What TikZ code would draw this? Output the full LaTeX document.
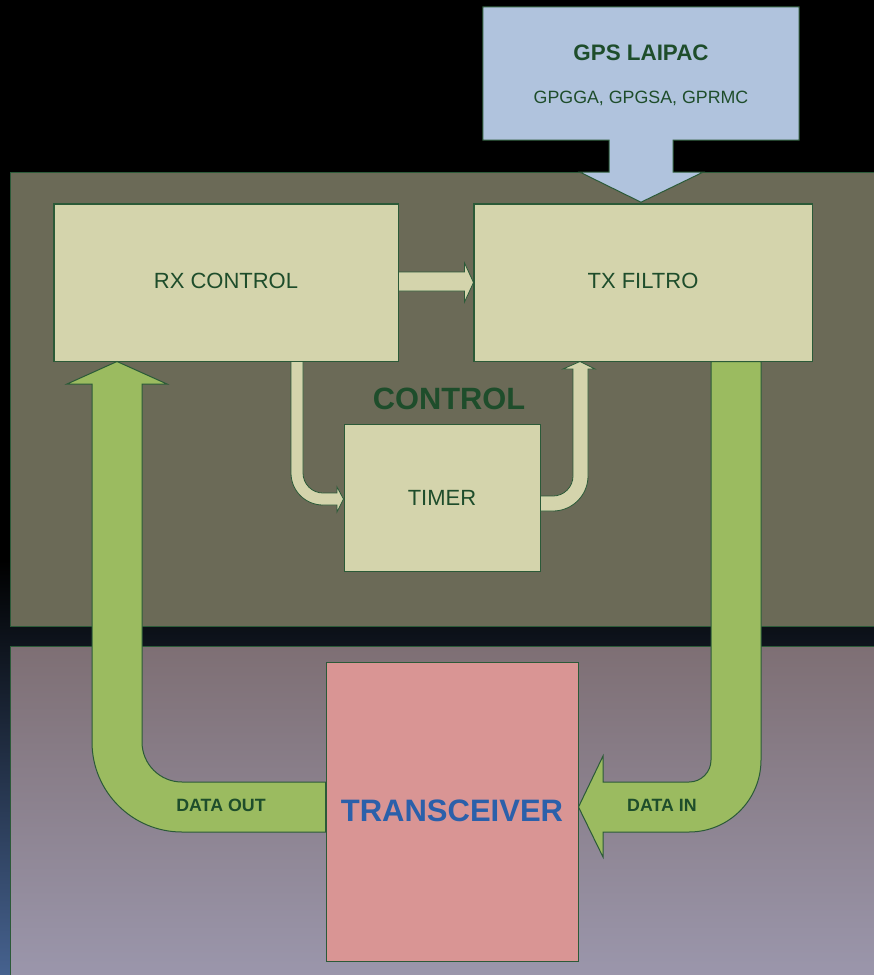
\documentclass[tikz,border=0pt]{standalone}
\usepackage{fontspec}
\setmainfont{Liberation Sans}
\usetikzlibrary{calc}

\definecolor{bgblue}{HTML}{46628F}
\definecolor{panelolive}{HTML}{6B6A57}
\definecolor{lowtop}{HTML}{7E6F74}
\definecolor{lowbot}{HTML}{9C98AE}
\definecolor{khaki}{HTML}{D4D4AC}
\definecolor{gpsblue}{HTML}{B0C3DD}
\definecolor{agreen}{HTML}{9BBB60}
\definecolor{xcvr}{HTML}{D99594}
\definecolor{xcvrtext}{HTML}{2B60AA}
\definecolor{edge}{HTML}{2B5A38}
\definecolor{dgreen}{HTML}{1E4D2B}

\begin{document}
\begin{tikzpicture}[x=1pt,y=-1pt,
  kbox/.style={draw=edge,fill=khaki,line width=1pt,inner sep=0pt,text=dgreen,
    font=\fontsize{22}{26}\selectfont},
  kharrow/.style={draw=edge,fill=khaki,line width=0.8pt,line join=miter},
  garrow/.style={draw=edge,fill=agreen,line width=1pt,line join=miter},
  panel/.style={draw=edge,line width=1pt},
  flowlbl/.style={text=dgreen,font=\fontsize{17.8}{20}\selectfont\bfseries,inner sep=0pt,anchor=base}]

\useasboundingbox (0,0) rectangle (874,975);
\clip (0,0) rectangle (874,975);

% backdrop: black fading into dark blue towards the bottom
\fill[black] (0,0) rectangle (874,975);
\shade[top color=black,bottom color=bgblue] (0,560) rectangle (874,975);

% control panel and radio panel
\fill[panelolive,panel] (10,172) rectangle (884,626);
\shade[top color=lowtop,bottom color=lowbot,panel] (10,646) rectangle (884,990);

% GPS receiver (callout with arrow into TX FILTRO)
\node[minimum width=316pt,minimum height=133pt,inner sep=0pt] (gps) at (641,73.5) {};
\path[draw=edge,fill=gpsblue,line width=1pt,line join=miter]
  (gps.north west) -- (gps.north east) -- (gps.south east)
  -- ($(gps.south)+(32,0)$) -- ($(gps.south)+(32,32)$) -- ($(gps.south)+(62,32)$)
  -- ($(gps.south)+(0,62)$)
  -- ($(gps.south)+(-61,32)$) -- ($(gps.south)+(-32,32)$) -- ($(gps.south)+(-32,0)$)
  -- (gps.south west) -- cycle;
\node[text=dgreen,font=\fontsize{22.4}{26}\selectfont\bfseries,inner sep=0pt,anchor=base] (gpsname) at (641,60) {GPS LAIPAC};
\node[text=dgreen,font=\fontsize{17.8}{20}\selectfont,inner sep=0pt,anchor=base] (gpsmsg) at (641,103) {GPGGA, GPGSA, GPRMC};

% blocks
\node[kbox,minimum width=344pt,minimum height=157pt] (rx) at (226,282.5) {};
\node[kbox,minimum width=338pt,minimum height=157pt] (tx) at (643,282.5) {};
\node[kbox,minimum width=196pt,minimum height=147pt] (timer) at (442,497.5) {};
\node[text=dgreen,font=\fontsize{22}{26}\selectfont,inner sep=0pt,anchor=base] (rxlbl) at (226,288.3) {RX CONTROL};
\node[text=dgreen,font=\fontsize{22}{26}\selectfont,inner sep=0pt,anchor=base] (txlbl) at (643,288.3) {TX FILTRO};
\node[text=dgreen,font=\fontsize{22}{26}\selectfont,inner sep=0pt,anchor=base] (timerlbl) at (442,505) {TIMER};
\node[text=dgreen,font=\fontsize{30.8}{34}\selectfont\bfseries,inner sep=0pt,anchor=base] (ctrl) at (449,409.3) {CONTROL};
\node[draw=edge,fill=xcvr,line width=1pt,minimum width=252pt,minimum height=299pt,inner sep=0pt] (xcvr) at (452,811.5) {};
\node[text=xcvrtext,font=\fontsize{31}{36}\selectfont\bfseries,inner sep=0pt,anchor=base] (xcvrlbl) at (452,821.7) {TRANSCEIVER};

% RX CONTROL -> TX FILTRO
\path[kharrow] ($(rx.east)+(0,-10.5)$) -- ($(tx.west)+(-9,-10.5)$) -- ($(tx.west)+(-9,-19.5)$)
  -- (tx.west) -- ($(tx.west)+(-9,19.5)$) -- ($(tx.west)+(-9,8.5)$) -- ($(rx.east)+(0,8.5)$) -- cycle;

% RX CONTROL -> TIMER
\path[kharrow] ($(rx.south)+(65,0)$) -- (291,473)
  .. controls (291,490.7) and (305.3,505) .. (323,505)
  -- (337,505) -- (337,512) -- ($(timer.west)+(0,1.5)$) -- (337,487) -- (337,493) -- (323,493)
  .. controls (312,493) and (303,484) .. (303,473)
  -- ($(rx.south)+(77,0)$) -- cycle;

% TIMER -> TX FILTRO
\path[kharrow] ($(timer.east)+(0,-1.5)$) -- (553,496)
  .. controls (564,496) and (573,487) .. (573,476)
  -- (573,369) -- (563,369) -- ($(tx.south)+(-63,0)$) -- (595,369) -- (588,369) -- (588,476)
  .. controls (588,495.3) and (572.3,511) .. (553,511)
  -- ($(timer.east)+(0,13.5)$) -- cycle;

% TRANSCEIVER -> RX CONTROL (data out)
\path[garrow] ($(rx.south)+(-109,0)$) -- (167,384) -- (142,384) -- (142,742)
  .. controls (142,764.1) and (159.9,782) .. (182,782)
  -- ($(xcvr.west)+(0,-29.5)$) -- ($(xcvr.west)+(0,20.5)$) -- (182,832)
  .. controls (132.3,832) and (92,791.7) .. (92,742)
  -- (92,384) -- (67,384) -- cycle;

% TX FILTRO -> TRANSCEIVER (data in)
\path[garrow] ($(tx.south)+(68,0)$) -- (711,760)
  .. controls (711,772.2) and (701.2,782) .. (689,782)
  -- (603,782) -- (603,756) -- ($(xcvr.east)+(0,-4.5)$) -- (603,857) -- (603,832) -- (689,832)
  .. controls (728.8,832) and (761,799.8) .. (761,760)
  -- ($(tx.south)+(118,0)$) -- cycle;

% redraw block outlines over the arrow ends
\draw[draw=edge,line width=1pt] (rx.south west) rectangle (rx.north east);
\draw[draw=edge,line width=1pt] (tx.south west) rectangle (tx.north east);

\node[flowlbl] (dout) at (221,811.5) {DATA OUT};
\node[flowlbl] (din) at (662,811) {DATA IN};
\end{tikzpicture}
\end{document}
